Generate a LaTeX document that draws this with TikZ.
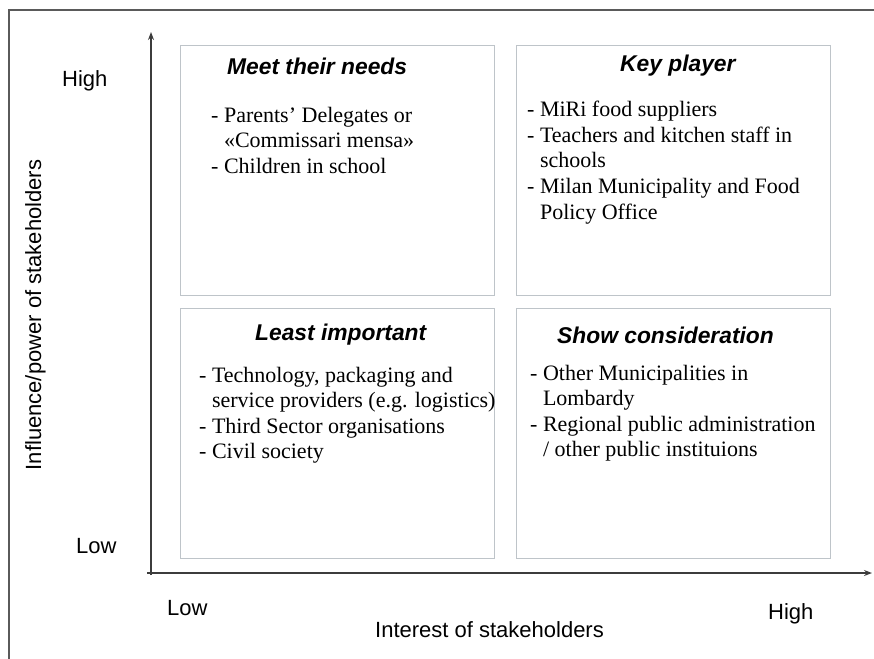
\documentclass[tikz,border=0pt]{standalone}
\usepackage{fontspec}
\setmainfont{Liberation Serif}
\setsansfont{Liberation Sans}
\usetikzlibrary{arrows}
\usetikzlibrary{arrows.meta}
\definecolor{boxgray}{RGB}{190,196,201}
\definecolor{axisgray}{RGB}{60,60,60}
\definecolor{framegray}{RGB}{90,90,90}

\begin{document}
\begin{tikzpicture}[x=1pt,y=-1pt,>={Stealth[length=8pt,width=6pt]},
	quad/.style={draw=boxgray,line width=1pt,inner sep=0pt,minimum width=314pt,minimum height=250pt},
	quadtitle/.style={anchor=base west,inner sep=0pt,font=\sffamily\bfseries\itshape\fontsize{22.8}{27}\selectfont},
	quaditems/.style={anchor=base west,inner sep=0pt,font=\fontsize{22}{25.5}\selectfont},
	axislabel/.style={anchor=base west,inner sep=0pt,font=\sffamily\fontsize{22}{26}\selectfont}]
\useasboundingbox (0,0) rectangle (874,658);
\draw[framegray,line width=1.2pt] (9,662) -- (9,10) -- (878,10);
\coordinate (origin) at (151,573);
\coordinate (xend) at (872,573);
\coordinate (yend) at (151,32);
\draw[->,axisgray,line width=1.3pt] (147,573) -- (xend);
\draw[->,axisgray,line width=1.3pt] (151,575) -- (yend);
\node[quad] (meet) at (337,170.5) {};
\node[quad] (key) at (673.5,170.5) {};
\node[quad] (least) at (337,433) {};
\node[quad] (show) at (673.5,433) {};
\node[quadtitle] (meettitle) at (227,75) {Meet their needs};
\node[quadtitle] (keytitle) at (620,72) {Key player};
\node[quadtitle] (leasttitle) at (255,340) {Least important};
\node[quadtitle] (showtitle) at (557,343) {Show consideration};
\node[quaditems] (meetitems) at (211,122) {\begin{tabular}[t]{@{}l@{}}
- Parents’ Delegates or\\
\hphantom{-\ }«Commissari mensa»\\
- Children in school
\end{tabular}};
\node[quaditems] (keyitems) at (527,117) {\begin{tabular}[t]{@{}l@{}}
- MiRi food suppliers\\
- Teachers and kitchen staff in\\
\hphantom{-\ }schools\\
- Milan Municipality and Food\\
\hphantom{-\ }Policy Office
\end{tabular}};
\node[quaditems] (leastitems) at (199,382) {\begin{tabular}[t]{@{}l@{}}
- Technology, packaging and\\
\hphantom{-\ }service providers (e.g. logistics)\\
- Third Sector organisations\\
- Civil society
\end{tabular}};
\node[quaditems] (showitems) at (530,380) {\begin{tabular}[t]{@{}l@{}}
- Other Municipalities in\\
\hphantom{-\ }Lombardy\\
- Regional public administration\\
\hphantom{-\ }/ other public instituions
\end{tabular}};
\node[axislabel] (highy) at (62,87) {High};
\node[axislabel] (lowy) at (76,553) {Low};
\node[axislabel] (lowx) at (167,615) {Low};
\node[axislabel] (highx) at (768,619) {High};
\node[axislabel,anchor=base] (xlabel) at (489.5,637) {Interest of stakeholders};
\node[axislabel,anchor=base,rotate=90] (ylabel) at (41,315) {Influence/power of stakeholders};
\end{tikzpicture}
\end{document}
